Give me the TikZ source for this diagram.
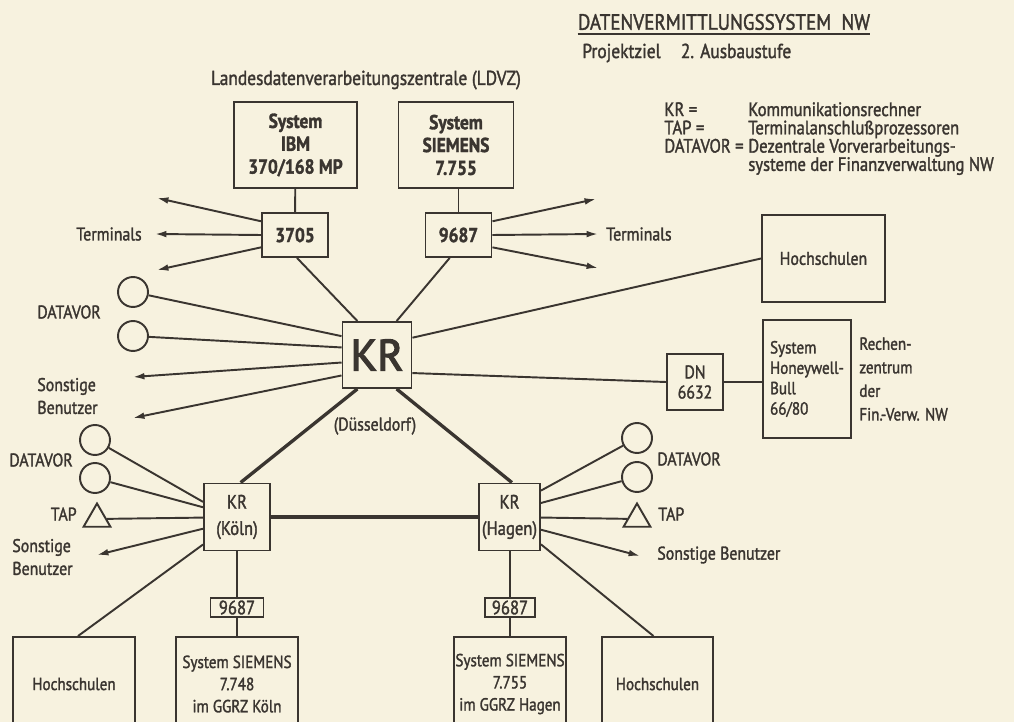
\documentclass[tikz,border=0pt]{standalone}
\usepackage{fontspec}
\setmainfont{PT Sans}[FakeStretch=0.86,FakeBold=1.6]
\newfontfamily\plainsans{PT Sans}[FakeBold=3]
\usetikzlibrary{arrows.meta,shapes.geometric,calc}
\definecolor{paper}{HTML}{F7F2DF}
\definecolor{ink}{HTML}{3A3530}
\begin{document}
\begin{tikzpicture}[x=0.02cm,y=-0.02cm,
  every node/.style={text=ink},
  box/.style={draw=ink,line width=1.1pt,inner sep=0pt,align=center,font=\fontsize{10}{12.5}\selectfont},
  bbox/.style={box,font=\bfseries\fontsize{11.5}{13}\selectfont},
  lbl/.style={inner sep=0pt,font=\fontsize{10.5}{12.5}\selectfont},
  conn/.style={draw=ink,line width=1.1pt},
  heavy/.style={draw=ink,line width=1.9pt},
  arr/.style={conn,-{Latex[length=6.5pt,width=3.8pt]}},
  ring/.style={circle,draw=ink,line width=1.1pt,minimum size=0.6cm,inner sep=0pt},
  tri/.style={regular polygon,regular polygon sides=3,draw=ink,line width=1.1pt,minimum size=0.62cm,inner sep=0pt}
]
\useasboundingbox[fill=paper] (0,0) rectangle (1014,722);

% ---------- header and legend ----------
\node[lbl,font=\fontsize{12.6}{14}\selectfont] (title) at (724,22) {DATENVERMITTLUNGSSYSTEM\ \ NW};
\draw[conn,line width=0.9pt] ([yshift=-2pt]title.south west) -- ([yshift=-2pt]title.south east);
\node[lbl,anchor=west,font=\fontsize{11.5}{13}\selectfont] (goal) at (582,53) {Projektziel\quad 2. Ausbaustufe};
\node[lbl,anchor=north west,align=left,font=\fontsize{11}{10.4}\selectfont] (legend) at (664,102)
  {\makebox[1.68cm][l]{KR =}Kommunikationsrechner\\
   \makebox[1.68cm][l]{TAP =}Terminalanschlußprozessoren\\
   \makebox[1.68cm][l]{DATAVOR =}Dezentrale Vorverarbeitungs-\\
   \makebox[1.68cm][l]{}systeme der Finanzverwaltung NW};

% ---------- LDVZ ----------
\node[lbl,font=\fontsize{11.5}{13}\selectfont] (ldvz) at (366,80) {Landesdatenverarbeitungszentrale (LDVZ)};
\node[bbox,minimum width=2.46cm,minimum height=1.72cm] (ibm) at (295.5,145) {System\\IBM\\370/168 MP};
\node[bbox,minimum width=2.30cm,minimum height=1.72cm] (sie) at (456,145) {System\\SIEMENS\\7.755};
\node[bbox,minimum width=1.32cm,minimum height=0.88cm] (c3705) at (295,235) {3705};
\node[bbox,minimum width=1.32cm,minimum height=0.88cm] (c9687) at (458.5,235) {9687};
\draw[conn] (ibm) -- (c3705);
\draw[conn] (sie.south -| c9687) -- (c9687);

\coordinate (tl1) at (157,198);
\coordinate (tl2) at (155,234);
\coordinate (tl3) at (157,270);
\coordinate (tr1) at (596,199);
\coordinate (tr2) at (598,234);
\coordinate (tr3) at (598,268);
\draw[arr] (c3705.158) -- (tl1);
\draw[arr] (c3705.west) -- (tl2);
\draw[arr] (c3705.200) -- (tl3);
\draw[arr] (c9687.22) -- (tr1);
\draw[arr] (c9687.east) -- (tr2);
\draw[arr] (c9687.340) -- (tr3);
\node[lbl,anchor=east] (terml) at (142,234) {Terminals};
\node[lbl,anchor=west] (termr) at (606,234) {Terminals};

% ---------- KR Duesseldorf ----------
\node[box,minimum width=1.38cm,minimum height=1.32cm,font=\plainsans\fontsize{25}{25}\selectfont] (kr) at (377,355) {KR};
\node[lbl] (dus) at (375,426) {(Düsseldorf)};
\draw[conn] (c3705.275) -- (kr.120);
\draw[conn] (c9687.249) -- (kr.60);

\node[ring] (dl1) at (133,292) {};
\node[ring] (dl2) at (133,336) {};
\node[lbl,anchor=west] (dvl) at (37,312) {DATAVOR};
\draw[conn] (dl1) -- (kr.152);
\draw[conn] (dl2) -- (kr.168);
\coordinate (sl1) at (133,377);
\coordinate (sl2) at (133,418);
\draw[arr] (kr.192) -- (sl1);
\draw[arr] (kr.210) -- (sl2);
\node[lbl,anchor=west,align=left,font=\fontsize{10.5}{13}\selectfont] (sbl) at (37,396) {Sonstige\\Benutzer};

\node[box,minimum width=2.46cm,minimum height=1.74cm,font=\fontsize{10.5}{12.5}\selectfont] (hsr) at (823.5,258.5) {Hochschulen};
\draw[conn] (kr.26) -- (hsr.west);
\node[box,minimum width=1.12cm,minimum height=1.12cm,font=\fontsize{10.5}{11.4}\selectfont] (dn) at (695,382) {DN\\6632};
\draw[conn] (kr.333) -- (dn.west);
\node[box,minimum width=1.76cm,minimum height=2.36cm,align=left,font=\fontsize{10}{11.6}\selectfont] (hw) at (807,379) {System\\Honeywell-\\Bull\\66/80};
\draw[conn] (dn.east) -- (hw.west |- dn.east);
\node[lbl,anchor=north west,align=left,font=\fontsize{10}{13.4}\selectfont] (rz) at (859,337) {Rechen-\\zentrum\\der\\Fin.-Verw. NW};

% ---------- KR Koeln / Hagen ----------
\node[box,minimum width=1.32cm,minimum height=1.34cm,font=\fontsize{11}{15}\selectfont] (kln) at (237,517) {KR\\(Köln)};
\node[box,minimum width=1.22cm,minimum height=1.34cm,font=\fontsize{11}{15}\selectfont] (hgn) at (509.5,517) {KR\\(Hagen)};
\draw[heavy] (kr.240) -- (kln.84);
\draw[heavy] (kr.300) -- (hgn.86);
\draw[heavy] (kln.east) -- (hgn.west);

% Koeln side
\node[ring] (dk1) at (95,440) {};
\node[ring] (dk2) at (95,478) {};
\node[lbl,anchor=west] (dvk) at (9,460) {DATAVOR};
\node[tri] (tapl) at (97,519) {};
\node[lbl,anchor=east] (tapll) at (77,514) {TAP};
\draw[conn] (dk1) -- (kln.156);
\draw[conn] (dk2) -- (kln.164);
\draw[conn] (kln.181) -- (tapl);
\coordinate (skl) at (97,555);
\draw[arr] (kln.199) -- (skl);
\node[lbl,anchor=west,align=left,font=\fontsize{10.5}{13}\selectfont] (sbk) at (12,557) {Sonstige\\Benutzer};

% Hagen side
\node[ring] (dh1) at (637,438) {};
\node[ring] (dh2) at (637,477) {};
\node[lbl,anchor=west] (dvh) at (657,459) {DATAVOR};
\node[tri] (tapr) at (637,519) {};
\node[lbl,anchor=west] (taprl) at (658,514) {TAP};
\draw[conn] (hgn.40) -- (dh1);
\draw[conn] (hgn.24) -- (dh2);
\draw[conn] (hgn.359) -- (tapr);
\coordinate (skr) at (640,556);
\draw[arr] (hgn.338) -- (skr);
\node[lbl,anchor=west] (sbh) at (657,555) {Sonstige Benutzer};

% bottom row (boxes run off the page)
\node[box,minimum width=1.06cm,minimum height=0.38cm,font=\fontsize{11}{11}\selectfont] (k9687) at (237,607.5) {9687};
\node[box,minimum width=1.00cm,minimum height=0.38cm,font=\fontsize{11}{11}\selectfont] (h9687) at (510,607.5) {9687};
\node[box,minimum width=2.44cm,minimum height=1.88cm] (hbl) at (74,684) {Hochschulen};
\node[box,minimum width=2.44cm,minimum height=1.88cm,font=\fontsize{10}{12.6}\selectfont] (skoeln) at (237,684) {System SIEMENS\\7.748\\im GGRZ Köln};
\node[box,minimum width=2.24cm,minimum height=1.88cm,font=\fontsize{10}{12.6}\selectfont] (shagen) at (510,684) {System SIEMENS\\7.755\\im GGRZ Hagen};
\node[box,minimum width=2.22cm,minimum height=1.88cm] (hbr) at (657.5,684) {Hochschulen};
\draw[conn] (kln) -- (k9687);
\draw[conn] (k9687) -- (skoeln);
\draw[conn] (hgn.south -| h9687) -- (h9687);
\draw[conn] (h9687) -- (shagen);
\draw[conn] (kln.219) -- ($(hbl.north)+(4,0)$);
\draw[conn] (hgn.319) -- ($(hbr.north)+(-4,0)$);
\end{tikzpicture}
\end{document}
